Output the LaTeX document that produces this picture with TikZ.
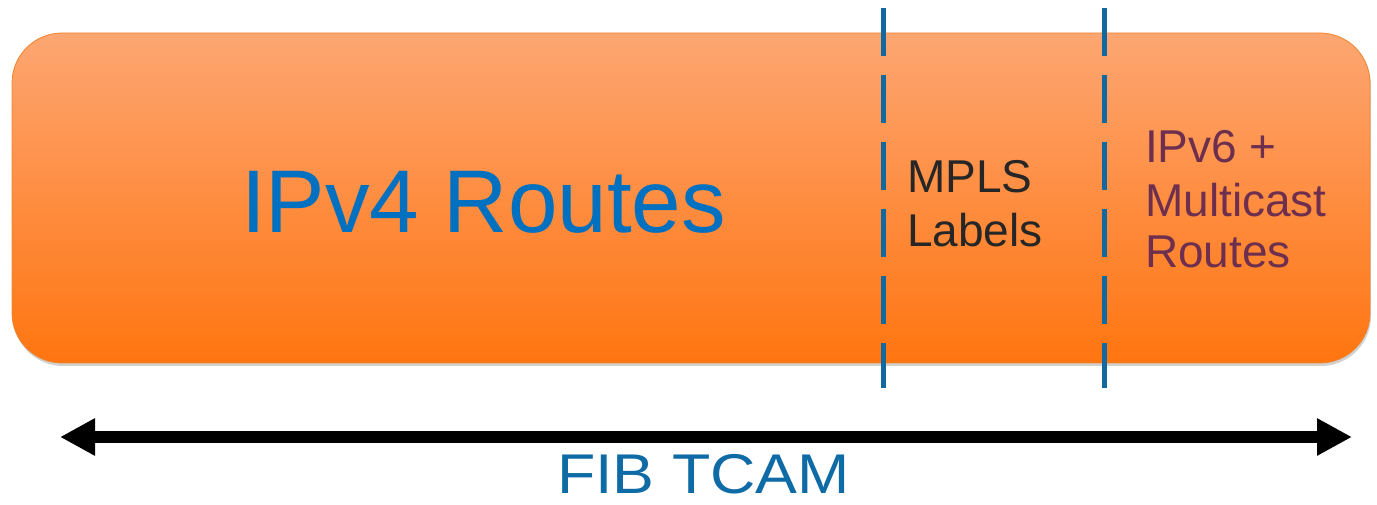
\documentclass[tikz,border=0pt]{standalone}
\usepackage{fontspec}
\setmainfont{Liberation Sans}
\usetikzlibrary{arrows.meta}
\definecolor{ipvblue}{HTML}{0070C0}
\definecolor{dashblue}{HTML}{11699F}
\definecolor{fibblue}{HTML}{0F6BA5}
\definecolor{mplsdark}{HTML}{262626}
\definecolor{vsixplum}{HTML}{6E2F4F}
\definecolor{boxtop}{HTML}{FDA672}
\definecolor{boxbot}{HTML}{FF7510}
\definecolor{boxedge}{HTML}{F0852F}
\tikzset{
  txt/.style={inner sep=0pt, anchor=base west},
  divider/.style={draw=dashblue, line width=5pt, dash pattern=on 48pt off 19pt},
  span/.style={draw=black, line width=12pt, {Triangle[length=35pt,width=35pt]}-{Triangle[length=35pt,width=35pt]}}
}
\begin{document}
\begin{tikzpicture}[x=1pt,y=1pt]
\useasboundingbox (0,0) rectangle (1377,504);
% shadow
\fill[black, opacity=0.18, rounded corners=50pt] (13,138) rectangle (1371,468);
% main box
\shade[top color=boxtop, bottom color=boxbot, rounded corners=50pt]
  (12,141) rectangle (1370,471);
\draw[boxedge, line width=0.8pt, rounded corners=50pt] (12,141) rectangle (1370,471);
% dividers
\coordinate (d1t) at (883,496);
\coordinate (d1b) at (883,116);
\coordinate (d2t) at (1104,496);
\coordinate (d2b) at (1104,116);
\draw[divider] (d1t) -- (d1b);
\draw[divider] (d2t) -- (d2b);
% texts
\node[txt, text=ipvblue, font=\fontsize{89}{89}\selectfont] (ipv4) at (241,271) {IPv4 Routes};
\node[txt, text=mplsdark, font=\fontsize{46}{46}\selectfont] (mpls1) at (907,311) {MPLS};
\node[txt, text=mplsdark, font=\fontsize{46}{46}\selectfont] (mpls2) at (907,257) {Labels};
\node[txt, text=vsixplum, font=\fontsize{46}{46}\selectfont] (v61) at (1145,341) {IPv6 +};
\node[txt, text=vsixplum, font=\fontsize{46}{46}\selectfont] (v62) at (1145,287) {Multicast};
\node[txt, text=vsixplum, font=\fontsize{46}{46}\selectfont] (v63) at (1145,236) {Routes};
% arrow
\coordinate (aL) at (60,67);
\coordinate (aR) at (1352,67);
\draw[span] (aL) -- (aR);
\node[txt, text=fibblue, font=\fontsize{56}{56}\selectfont] (fib) at (557,11) {\scalebox{1.12}[1]{FIB TCAM}};
\end{tikzpicture}
\end{document}
